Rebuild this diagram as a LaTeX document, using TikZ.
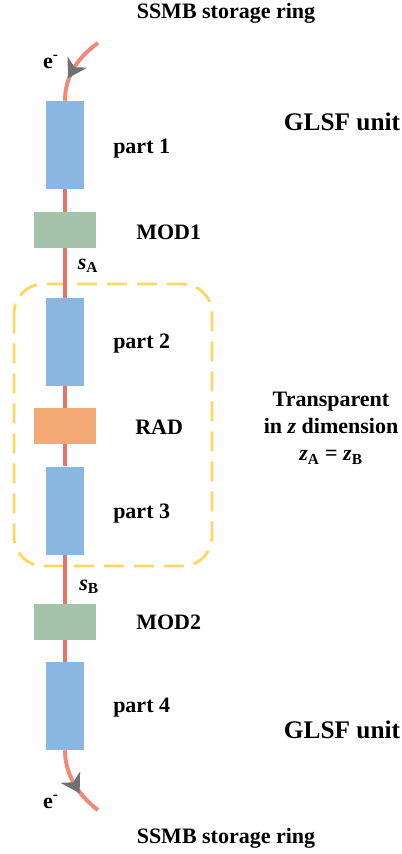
\documentclass[tikz,border=0pt]{standalone}
\usepackage{fontspec}
\setmainfont{Liberation Serif}
\usetikzlibrary{decorations.markings}
\definecolor{partblue}{RGB}{138,183,225}
\definecolor{modgreen}{RGB}{163,196,170}
\definecolor{radorange}{RGB}{244,168,116}
\definecolor{beamred}{RGB}{232,117,95}
\definecolor{curvered}{RGB}{240,138,120}
\definecolor{dashyellow}{RGB}{253,215,100}
\definecolor{arrowgray}{RGB}{112,112,112}
\tikzset{
  partbox/.style={rectangle, fill=partblue, draw=none, minimum width=38*0.75pt, minimum height=88*0.75pt, inner sep=0},
  modbox/.style={rectangle, fill=modgreen, draw=none, minimum width=62*0.75pt, minimum height=36*0.75pt, inner sep=0},
  radbox/.style={rectangle, fill=radorange, draw=none, minimum width=62*0.75pt, minimum height=36*0.75pt, inner sep=0},
  beam/.style={draw=beamred, line width=3pt},
  ringcurve/.style={draw=curvered, line width=3pt, postaction={decorate},
    decoration={markings, mark=at position #1 with {\fill[arrowgray] (8pt,0pt) -- (-6pt,8.5pt) -- (-1.5pt,0pt) -- (-6pt,-8.5pt) -- cycle;}}},
  lbl/.style={inner sep=0, font=\fontsize{16.5}{19}\selectfont\bfseries},
  biglbl/.style={inner sep=0, font=\fontsize{19}{22}\selectfont\bfseries},
  region/.style={draw=dashyellow, line width=2.2pt, dash pattern=on 15pt off 7.5pt, rounded corners=22pt}
}
\begin{document}
\begin{tikzpicture}[x=0.75pt,y=-0.75pt]
\useasboundingbox (0,0) rectangle (401,854);
% region
\draw[region] (14,284) rectangle (212,566);
% components
\node[partbox] (p1) at (65,145) {};
\node[modbox] (m1) at (65,230) {};
\node[partbox] (p2) at (65,342) {};
\node[radbox] (rad) at (65,426) {};
\node[partbox] (p3) at (65,510.5) {};
\node[modbox] (m2) at (65,622) {};
\node[partbox] (p4) at (65,706) {};
% beam line
\draw[beam] (p1.south) -- (m1.north);
\draw[beam] (m1.south) -- (p2.north);
\draw[beam] (p2.south) -- (rad.north);
\draw[beam] (rad.south) -- (p3.north);
\draw[beam] (p3.south) -- (m2.north);
\draw[beam] (m2.south) -- (p4.north);
% ring curves
\coordinate (tin) at (98,43);
\coordinate (bout) at (98,810);
\draw[ringcurve=0.52] (tin) .. controls (74,60) and (65,80) .. (p1.north);
\draw[ringcurve=0.5] (p4.south) .. controls (65,770) and (74,792) .. (bout);
% labels
\node[lbl] (ttop) at (226,13) {SSMB storage ring};
\node[lbl] (tbot) at (226,838) {SSMB storage ring};
\node[biglbl] (g1) at (342,122) {GLSF unit};
\node[biglbl] (g2) at (342,730) {GLSF unit};
\node[lbl] (e1) at (51,62) {e\textsuperscript{-}};
\node[lbl] (e2) at (51,802) {e\textsuperscript{-}};
\node[lbl, anchor=west] (l1) at (113,149) {part 1};
\node[lbl, anchor=west] (l2) at (113,344) {part 2};
\node[lbl, anchor=west] (l3) at (113,514) {part 3};
\node[lbl, anchor=west] (l4) at (113,708) {part 4};
\node[lbl, anchor=west] (lm1) at (136,232) {MOD1};
\node[lbl, anchor=west] (lm2) at (136,622) {MOD2};
\node[lbl, anchor=west] (lrad) at (135,427) {RAD};
\node[lbl] (sa) at (88,266) {\textit{s}\textsubscript{\upshape A}};
\node[lbl] (sb) at (89,587) {\textit{s}\textsubscript{\upshape B}};
\node[lbl, align=center] (tr) at (331,428) {Transparent\\[1.5pt] in \textit{z} dimension\\[1.5pt] \textit{z}\textsubscript{\upshape A} = \textit{z}\textsubscript{\upshape B}};
\end{tikzpicture}
\end{document}
